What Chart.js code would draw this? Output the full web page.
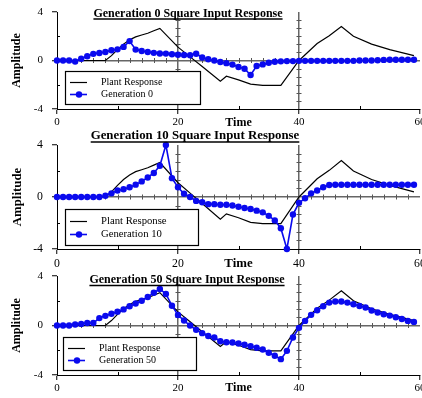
<!DOCTYPE html>
<html>
<head>
<meta charset="utf-8">
<script src="https://cdn.jsdelivr.net/npm/chart.js@4.4.1/dist/chart.umd.min.js"></script>
<style>
    html, body { margin: 0; padding: 0; background: #fff; }
    #wrap { position: relative; width: 422px; height: 398px; overflow: hidden; }
    #wrap canvas { position: absolute; left: 0; }
</style>
</head>
<body>
<div id="wrap">
    <canvas id="c0" width="422" height="130" style="top:0px"></canvas>
    <canvas id="c1" width="422" height="144" style="top:128px"></canvas>
    <canvas id="c2" width="422" height="134" style="top:264px"></canvas>
</div>
<script>
var timeSteps = [0, 1, 2, 3, 4, 5, 6, 7, 8, 9, 10, 11, 12, 13, 14, 15, 16, 17, 18, 19,
    20, 21, 22, 23, 24, 25, 26, 27, 28, 29, 30, 31, 32, 33, 34, 35, 36, 37, 38, 39,
    40, 41, 42, 43, 44, 45, 46, 47, 48, 49, 50, 51, 52, 53, 54, 55, 56, 57, 58, 59];

var plantTime = [0, 8, 9, 10, 11, 12, 13, 14, 15, 16, 17, 20, 22, 24, 27, 28, 30, 32, 34, 37,
    40, 43, 45, 47, 49, 52, 55, 57, 59];
var plantResponse = [0, 0, 0.4, 0.9, 1.35, 1.7, 1.95, 2.1, 2.25, 2.45, 2.65, 1.1, 0.3, -0.5, -1.7, -1.3,
    -1.6, -1.95, -2.05, -2.05, 0, 1.4, 2.05, 2.8, 2.0, 1.35, 0.9, 0.65, 0.4];

var gen0 = [0, 0, 0, -0.08, 0.15, 0.35, 0.55, 0.62, 0.7, 0.85, 0.92, 1.12, 1.6, 0.9, 0.78, 0.7, 0.63, 0.58, 0.57, 0.52,
    0.48, 0.45, 0.43, 0.56, 0.25, 0.1, 0, -0.12, -0.22, -0.34, -0.53, -0.68, -1.2, -0.45, -0.32, -0.18, -0.1, -0.07, -0.05, -0.05,
    -0.03, -0.03, -0.03, -0.03, -0.03, -0.03, -0.03, -0.03, -0.03, -0.03, 0, 0, 0, 0.02, 0.05, 0.06, 0.06, 0.06, 0.06, 0.06];
var gen10 = [0, 0, 0, 0, 0, 0, 0, 0, 0.1, 0.28, 0.5, 0.6, 0.75, 0.95, 1.2, 1.5, 1.85, 2.4, 4.0, 1.45,
    0.75, 0.25, 0, -0.3, -0.4, -0.55, -0.55, -0.6, -0.6, -0.65, -0.75, -0.85, -0.92, -1.05, -1.18, -1.45, -1.8, -2.4, -4.0, -1.35,
    -0.45, -0.1, 0.28, 0.5, 0.75, 0.92, 0.94, 0.94, 0.94, 0.94, 0.94, 0.94, 0.94, 0.94, 0.94, 0.94, 0.94, 0.94, 0.94, 0.94];
var gen50 = [0, 0, 0, 0.08, 0.13, 0.2, 0.2, 0.6, 0.78, 0.95, 1.12, 1.3, 1.55, 1.78, 2.0, 2.3, 2.65, 2.95, 2.55, 1.6,
    0.85, 0.4, 0, -0.35, -0.62, -0.85, -0.97, -1.27, -1.35, -1.37, -1.45, -1.56, -1.67, -1.8, -1.94, -2.2, -2.45, -2.72, -2.05, -0.97,
    -0.19, 0.37, 0.86, 1.23, 1.56, 1.85, 1.94, 1.94, 1.85, 1.72, 1.58, 1.45, 1.21, 1.05, 0.91, 0.8, 0.67, 0.53, 0.37, 0.29];

var plantLabel = 'Plant Response';
var generationLabels = ['Generation 0', 'Generation 10', 'Generation 50'];
var panelTitles = ['Generation 0 Square Input Response', 'Generation 10 Square Input Response',
    'Generation 50 Square Input Response'];
var xTitle = 'Time';
var yTitle = 'Amplitude';

var xTickValues = [0, 20, 40, 60];
var yTickValues = [-4, 0, 4];
var xMinorTicks = [10, 30, 50];
var yMinorTicks = [-2, 2];
var crossLines = [20, 40];
var zeroLineTicks = [2, 4, 6, 8, 10, 12, 14, 16, 18, 22, 24, 26, 28, 30, 32, 34, 36, 38, 42, 44, 46, 48, 50, 52, 54, 56, 58];
var crossLineTicks = [-3.33, -2.67, -2, -1.33, -0.67, 0.67, 1.33, 2, 2.67, 3.33];

var SERIF = '"Liberation Serif", "Times New Roman", serif';
var BLUE = '#0a0aee';

// layout of the three stacked panels (page pixels)
var panels = [
    { top: 0, height: 130, chartTop: 12, chartBottom: 109, labelY: 122.5, k: 1,
      titleX: 188, titleY: 13.5, underY: 19, legend: [65, 71, 135, 33], series: gen0 },
    { top: 128, height: 144, chartTop: 145, chartBottom: 249, labelY: 264, k: 1.07,
      titleX: 195, titleY: 136, underY: 142, legend: [65, 209, 133, 36], series: gen10 },
    { top: 264, height: 134, chartTop: 276, chartBottom: 375, labelY: 388, k: 1,
      titleX: 187, titleY: 280, underY: 285.5, legend: [63, 337, 133, 33], series: gen50 }
];

function makeChart(i) {
    var p = panels[i];
    var tickSize = 11 * p.k;
    var titleSize = 12 * p.k;
    var xScaleHeight = p.height - (p.chartBottom - p.top);
    var labelFromBottom = p.top + p.height - p.labelY;

    var decor = {
        id: 'decor' + i,
        beforeDatasetsDraw: function (chart) {
            var ctx = chart.ctx, xs = chart.scales.x, ys = chart.scales.y, a = chart.chartArea;
            ctx.save();
            ctx.strokeStyle = '#000';
            ctx.lineWidth = 1;
            ctx.beginPath();
            yMinorTicks.forEach(function (v) {
                var py = Math.round(ys.getPixelForValue(v)) + 0.5;
                ctx.moveTo(a.left, py);
                ctx.lineTo(a.left + 3, py);
            });
            xMinorTicks.forEach(function (v) {
                var px = Math.round(xs.getPixelForValue(v)) + 0.5;
                ctx.moveTo(px, a.bottom);
                ctx.lineTo(px, a.bottom - 3);
            });
            ctx.stroke();

            ctx.strokeStyle = '#555';
            ctx.beginPath();
            var y0 = ys.getPixelForValue(0);
            zeroLineTicks.forEach(function (v) {
                var px = Math.round(xs.getPixelForValue(v)) + 0.5;
                ctx.moveTo(px, y0 - 2.5);
                ctx.lineTo(px, y0 + 2.5);
            });
            crossLines.forEach(function (g) {
                var gx = xs.getPixelForValue(g);
                crossLineTicks.forEach(function (v) {
                    var py = Math.round(ys.getPixelForValue(v)) + 0.5;
                    ctx.moveTo(gx - 2.5, py);
                    ctx.lineTo(gx + 2.5, py);
                });
            });
            ctx.stroke();
            ctx.restore();
        },
        afterDatasetsDraw: function (chart) {
            var ctx = chart.ctx;
            ctx.save();

            // underlined title
            ctx.font = 'bold ' + titleSize + 'px ' + SERIF;
            ctx.fillStyle = '#000';
            ctx.textAlign = 'center';
            ctx.textBaseline = 'middle';
            var text = panelTitles[i];
            var w = ctx.measureText(text).width;
            ctx.fillText(text, p.titleX, p.titleY - p.top);
            ctx.strokeStyle = '#000';
            ctx.lineWidth = 1.3;
            ctx.beginPath();
            ctx.moveTo(p.titleX - w / 2, p.underY - p.top);
            ctx.lineTo(p.titleX + w / 2, p.underY - p.top);
            ctx.stroke();

            // boxed legend
            var bx = p.legend[0], by = p.legend[1] - p.top, bw = p.legend[2], bh = p.legend[3];
            ctx.fillStyle = '#fff';
            ctx.fillRect(bx, by, bw, bh);
            ctx.lineWidth = 1.2;
            ctx.strokeRect(bx + 0.5, by + 0.5, bw, bh);
            ctx.font = (10 * p.k) + 'px ' + SERIF;
            ctx.textAlign = 'left';
            var rows = [by + bh * 0.32, by + bh * 0.7];
            chart.data.datasets.forEach(function (ds, j) {
                var ry = Math.round(rows[j]) + 0.5;
                ctx.strokeStyle = ds.borderColor;
                ctx.lineWidth = ds.borderWidth;
                ctx.beginPath();
                ctx.moveTo(bx + 5, ry);
                ctx.lineTo(bx + 22, ry);
                ctx.stroke();
                if (ds.pointRadius > 0) {
                    ctx.fillStyle = ds.backgroundColor;
                    ctx.beginPath();
                    ctx.arc(bx + 14, ry, ds.pointRadius, 0, Math.PI * 2);
                    ctx.fill();
                }
                ctx.fillStyle = '#000';
                ctx.fillText(ds.label, bx + 36, ry);
            });
            ctx.restore();
        }
    };

    return new Chart(document.getElementById('c' + i), {
        type: 'line',
        data: {
            datasets: [
                {
                    label: plantLabel,
                    data: plantTime.map(function (t, j) { return { x: t, y: plantResponse[j] }; }),
                    borderColor: '#000',
                    backgroundColor: '#000',
                    borderWidth: 1.2,
                    pointRadius: 0,
                    tension: 0,
                    order: 1
                },
                {
                    label: generationLabels[i],
                    data: timeSteps.map(function (t, j) { return { x: t, y: p.series[j] }; }),
                    borderColor: BLUE,
                    backgroundColor: BLUE,
                    borderWidth: 1.6,
                    pointRadius: 3.2,
                    pointBorderWidth: 0,
                    tension: 0,
                    clip: false,
                    order: 0
                }
            ]
        },
        options: {
            responsive: false,
            animation: false,
            events: [],
            layout: { autoPadding: false, padding: { left: 0, right: 2, top: p.chartTop - p.top, bottom: 0 } },
            plugins: {
                legend: { display: false },
                title: { display: false },
                tooltip: { enabled: false }
            },
            scales: {
                x: {
                    type: 'linear',
                    min: 0,
                    max: 60,
                    afterBuildTicks: function (s) { s.ticks = xTickValues.map(function (v) { return { value: v }; }); },
                    afterFit: function (s) { s.height = xScaleHeight; s.paddingLeft = 0; s.paddingRight = 0; },
                    ticks: {
                        color: '#000',
                        font: { family: SERIF, size: tickSize },
                        padding: (p.labelY - p.chartBottom) - 5 - tickSize * 0.6,
                        maxRotation: 0,
                        autoSkip: false
                    },
                    grid: {
                        color: function (c) { return c.tick && crossLines.indexOf(c.tick.value) >= 0 ? '#666' : 'rgba(0,0,0,0)'; },
                        lineWidth: 1.5,
                        drawTicks: true,
                        tickLength: 5,
                        tickColor: '#000',
                        tickWidth: 1
                    },
                    border: { display: true, color: '#000', width: 1 },
                    title: {
                        display: true,
                        text: xTitle,
                        color: '#000',
                        font: { family: SERIF, size: titleSize, weight: 'bold' },
                        padding: { top: 0, bottom: labelFromBottom - titleSize * 0.6 }
                    }
                },
                y: {
                    min: -4,
                    max: 4,
                    afterBuildTicks: function (s) { s.ticks = yTickValues.map(function (v) { return { value: v }; }); },
                    afterFit: function (s) { s.width = 57; s.paddingTop = 0; s.paddingBottom = 0; },
                    ticks: {
                        color: '#000',
                        font: { family: SERIF, size: tickSize },
                        padding: 9
                    },
                    grid: {
                        color: function (c) { return c.tick && c.tick.value === 0 ? '#666' : 'rgba(0,0,0,0)'; },
                        lineWidth: 1.5,
                        drawTicks: true,
                        tickLength: 5,
                        tickColor: '#000',
                        tickWidth: 1
                    },
                    border: { display: true, color: '#000', width: 1 },
                    title: {
                        display: true,
                        text: yTitle,
                        color: '#000',
                        font: { family: SERIF, size: titleSize, weight: 'bold' },
                        padding: { top: 17.3 - titleSize * 0.6, bottom: 0 }
                    }
                }
            }
        },
        plugins: [decor]
    });
}

panels.forEach(function (p, i) { makeChart(i); });
</script>
</body>
</html>
